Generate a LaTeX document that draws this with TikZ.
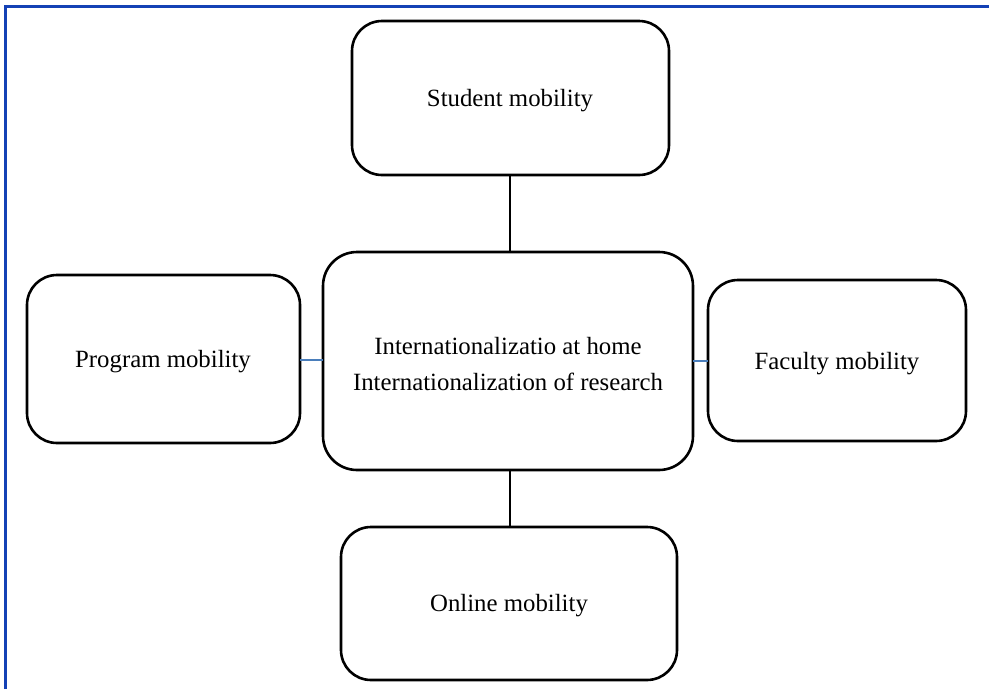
\documentclass[tikz,border=0pt]{standalone}
\usepackage{fontspec}
\setmainfont{Liberation Serif}
\definecolor{framec}{HTML}{1441B5}
\definecolor{linkc}{HTML}{4A7EBB}
\begin{document}
\begin{tikzpicture}[x=1pt,y=-1pt,
  box/.style={draw=black,line width=2.6pt,rounded corners=30pt,fill=white},
  lbl/.style={font=\fontsize{24.8}{36}\selectfont,align=center},
  vlink/.style={draw=black,line width=2.6pt},
  hlink/.style={draw=linkc,line width=2.6pt}]
\useasboundingbox (0,0) rectangle (989,689);
\fill[white] (0,0) rectangle (989,689);
\draw[framec,line width=3pt] (5,689) -- (5,6) -- (989,6);
% boxes
\draw[box] (352,21) rectangle (669,175);
\draw[box,rounded corners=34pt] (323,252) rectangle (693,470);
\draw[box] (27,275) rectangle (300,443);
\draw[box] (708,280) rectangle (966,441);
\draw[box] (341,527) rectangle (677,680);
% named anchors
\coordinate (sB) at (510,175);
\coordinate (cT) at (510,252);
\coordinate (cB) at (510,470);
\coordinate (oT) at (510,527);
\coordinate (pR) at (300,360);
\coordinate (cL) at (323,360);
\coordinate (cR) at (693,361);
\coordinate (fL) at (708,361);
\draw[vlink] (sB) -- (cT);
\draw[vlink] (cB) -- (oT);
\draw[hlink] (pR) -- (cL);
\draw[hlink] (cR) -- (fL);
% labels
\node[lbl] (student) at (510,101) {Student mobility};
\node[lbl] (center) at (508,364) {Internationalizatio at home\\Internationalization of research};
\node[lbl] (program) at (163,362) {Program mobility};
\node[lbl] (faculty) at (837,364) {Faculty mobility};
\node[lbl] (online) at (509,606) {Online mobility};
\end{tikzpicture}
\end{document}
